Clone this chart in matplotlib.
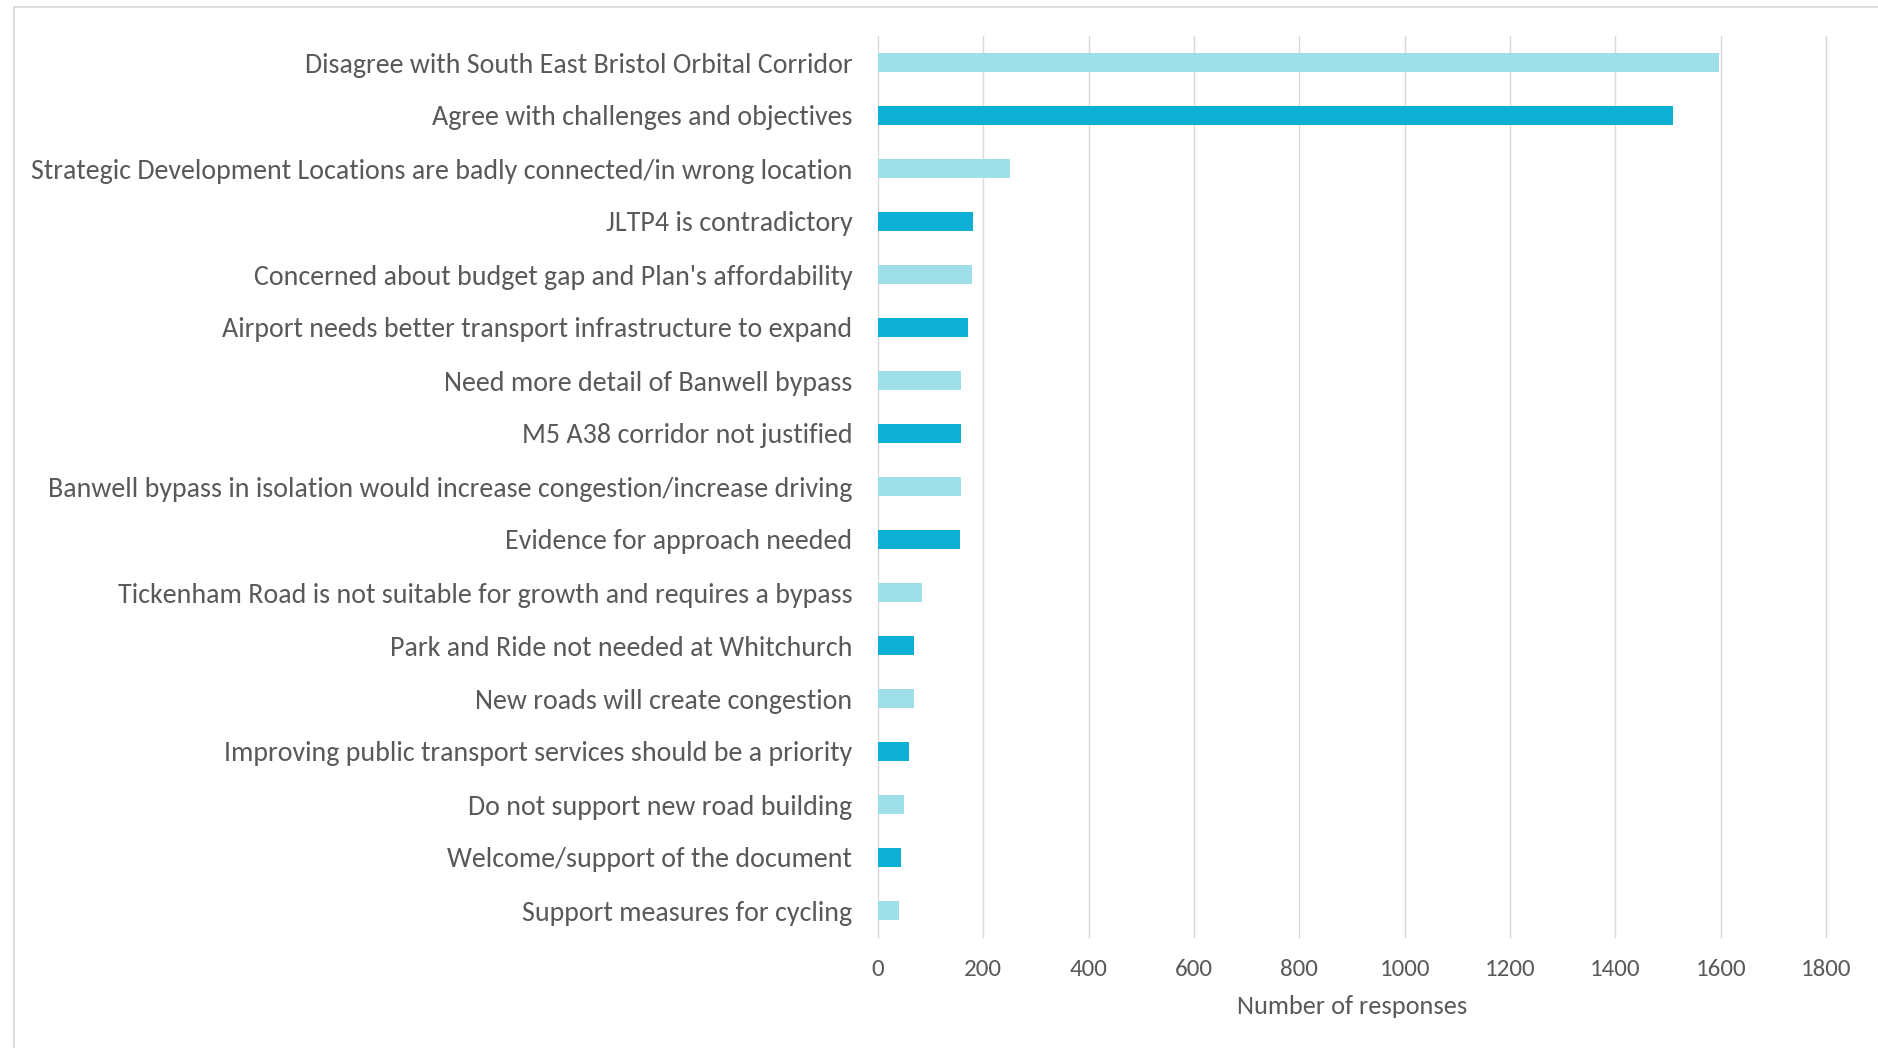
import matplotlib
matplotlib.use("Agg")
import matplotlib.pyplot as plt
from matplotlib.lines import Line2D

plt.rcParams['font.family'] = ['Carlito', 'Liberation Sans Narrow', 'Lato', 'DejaVu Sans']

categories = [
    "Disagree with South East Bristol Orbital Corridor",
    "Agree with challenges and objectives",
    "Strategic Development Locations are badly connected/in wrong location",
    "JLTP4 is contradictory",
    "Concerned about budget gap and Plan's affordability",
    "Airport needs better transport infrastructure to expand",
    "Need more detail of Banwell bypass",
    "M5 A38 corridor not justified",
    "Banwell bypass in isolation would increase congestion/increase driving",
    "Evidence for approach needed",
    "Tickenham Road is not suitable for growth and requires a bypass",
    "Park and Ride not needed at Whitchurch",
    "New roads will create congestion",
    "Improving public transport services should be a priority",
    "Do not support new road building",
    "Welcome/support of the document",
    "Support measures for cycling",
]
responses = [1597, 1509, 251, 180, 178, 171, 158, 158, 158, 156, 84, 68, 68, 59, 49, 44, 40]
x_ticks = [0, 200, 400, 600, 800, 1000, 1200, 1400, 1600, 1800]
x_label = "Number of responses"

light = "#9EDFE9"
dark = "#0DB0D4"
grid_col = "#D9D9D9"
text_col = "#595959"

W, H = 1878, 1048
fig = plt.figure(figsize=(W / 100, H / 100), dpi=100)
fig.patch.set_facecolor("white")

ax = fig.add_axes([878 / W, 1 - 937 / H, (1826 - 878) / W, (937 - 36) / H])

ypos = list(range(len(categories)))
colors = [light if i % 2 == 0 else dark for i in ypos]
ax.barh(ypos, responses, height=0.35, color=colors, zorder=2)

ax.set_xlim(0, 1800)
ax.set_ylim(len(categories) - 0.5, -0.5)
ax.set_xticks(x_ticks)
ax.set_xticklabels([str(t) for t in x_ticks])
ax.set_yticks(ypos)
ax.set_yticklabels(categories)

for s in ax.spines.values():
    s.set_visible(False)

ax.set_axisbelow(True)
ax.xaxis.grid(True, color=grid_col, linewidth=1.0)
for gl in ax.get_xgridlines():
    gl.set_clip_on(False)

ax.tick_params(axis='y', length=0, pad=18.5, labelsize=20.2, labelcolor=text_col)
ax.tick_params(axis='x', length=0, pad=15.5, labelsize=18, labelcolor=text_col)
ax.set_xlabel(x_label, fontsize=19, color=text_col, labelpad=11.5)

# outer chart border (runs off the right and bottom edges)
fig.add_artist(Line2D([13.5 / W, 13.5 / W], [0, 1 - 7 / H], transform=fig.transFigure,
                      color=grid_col, linewidth=1.2))
fig.add_artist(Line2D([13.5 / W, 1], [1 - 7 / H, 1 - 7 / H], transform=fig.transFigure,
                      color=grid_col, linewidth=1.2))

fig.savefig("out.png", dpi=100, facecolor="white")
